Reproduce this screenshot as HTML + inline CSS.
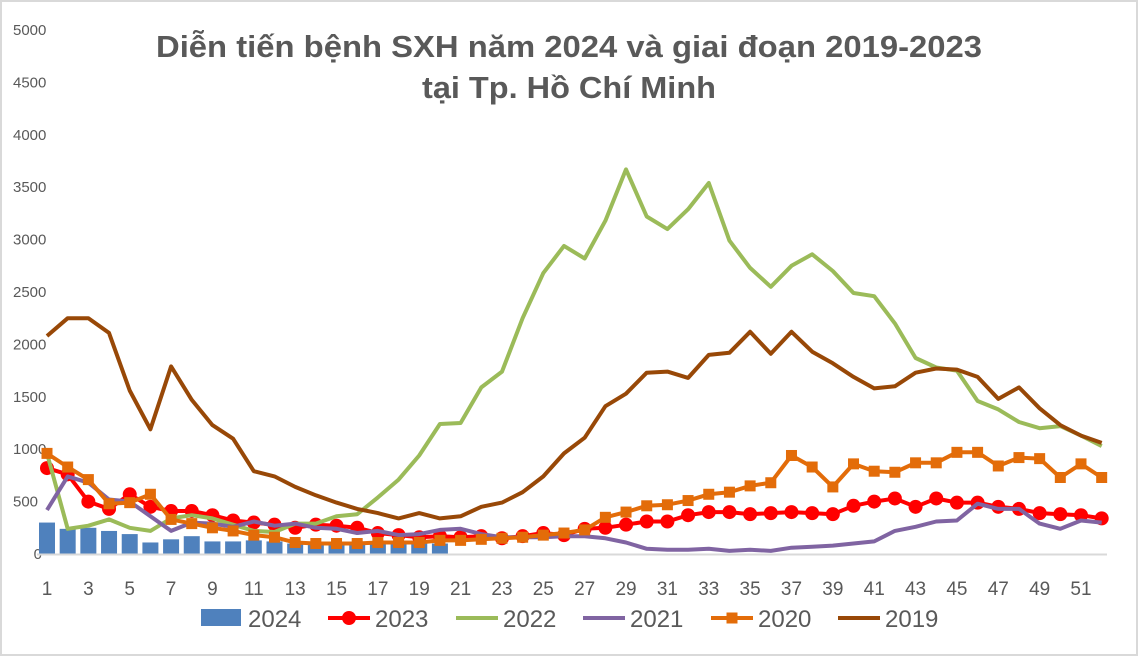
<!DOCTYPE html>
<html><head><meta charset="utf-8"><style>
html,body{margin:0;padding:0;background:#fff}
svg{display:block;font-family:"Liberation Sans",sans-serif}
</style></head><body>
<svg id="c" width="1138" height="656" viewBox="0 0 1138 656" xmlns="http://www.w3.org/2000/svg">
<rect x="0.5" y="0.5" width="1137" height="655" fill="#fff" stroke="#d9d9d9" stroke-width="3"/>
<text x="569" y="57" text-anchor="middle" font-size="31" font-weight="bold" fill="#595959" textLength="826" lengthAdjust="spacingAndGlyphs">Diễn tiến bệnh SXH năm 2024 và giai đoạn 2019-2023</text>
<text x="569" y="98" text-anchor="middle" font-size="31" font-weight="bold" fill="#595959" textLength="294" lengthAdjust="spacingAndGlyphs">tại Tp. Hồ Chí Minh</text>
<g id="g"></g>
</svg>
<script>
var ns="http://www.w3.org/2000/svg",g=document.getElementById('g');
function el(t,a,txt){var e=document.createElementNS(ns,t);for(var k in a)e.setAttribute(k,a[k]);if(txt!=null)e.textContent=txt;g.appendChild(e);return e;}
function X(w){return 47+(w-1)*20.68;}
function Y(v){return 554-v*0.1048;}
for(var v=0;v<=5000;v+=500){el('text',{x:v==0?42:13,y:Y(v)+5,'font-size':15,fill:'#595959'},String(v)).setAttribute('text-anchor',v==0?'end':'start');}
for(var w=1;w<=51;w+=2){el('text',{x:X(w),y:595,'font-size':19,fill:'#595959','text-anchor':'middle'},String(w));}
var b=[300,240,250,220,190,110,140,170,120,120,130,120,100,100,100,100,100,100,100,100];
b.forEach(function(v,i){el('rect',{x:X(i+1)-8,y:Y(v),width:16,height:554-Y(v),fill:'#4f81bd'});});
el('line',{x1:37,y1:554.5,x2:1107,y2:554.5,stroke:'#d9d9d9','stroke-width':2});
var s19=[2080,2250,2250,2110,1560,1190,1790,1470,1230,1100,790,740,640,560,490,430,390,340,390,340,360,450,490,590,740,960,1110,1410,1530,1730,1740,1680,1900,1920,2120,1910,2120,1930,1820,1690,1580,1600,1730,1770,1760,1690,1480,1590,1390,1230,1130,1060];
var s22=[960,240,270,330,250,220,340,370,340,280,220,210,290,290,360,380,540,710,940,1240,1250,1590,1740,2250,2680,2940,2820,3180,3670,3220,3100,3290,3540,2990,2730,2550,2750,2860,2700,2490,2460,2200,1870,1780,1750,1460,1380,1260,1200,1220,1130,1030];
var s21=[420,740,680,520,500,360,220,300,290,260,310,270,290,250,240,200,220,180,190,230,240,190,160,160,160,170,170,150,110,50,40,40,50,30,40,30,60,70,80,100,120,220,260,310,320,480,430,430,290,240,320,300];
var s20=[960,830,710,480,490,570,330,290,250,220,180,160,110,100,100,100,110,110,110,130,130,140,150,160,180,200,230,350,400,460,470,510,570,590,650,680,940,830,640,860,790,780,870,870,970,970,840,920,910,730,860,730];
var s23=[820,760,500,430,570,450,410,410,370,320,300,280,250,280,270,250,200,180,160,170,160,170,150,170,200,180,240,250,280,310,310,370,400,400,380,390,400,390,380,460,500,530,450,530,490,490,450,430,390,380,370,340];
function line(d,c){el('polyline',{points:d.map(function(v,i){return X(i+1).toFixed(1)+','+Y(v).toFixed(1)}).join(' '),fill:'none',stroke:c,'stroke-width':4,'stroke-linejoin':'round'});}
line(s23,'#ff0000');
s23.forEach(function(v,i){el('circle',{cx:X(i+1),cy:Y(v),r:7,fill:'#ff0000'});});
line(s22,'#9bbb59');
line(s21,'#8064a2');
line(s20,'#e36c09');
s20.forEach(function(v,i){el('rect',{x:X(i+1)-5.5,y:Y(v)-5.5,width:11,height:11,fill:'#e36c09'});});
line(s19,'#984807');
el('rect',{x:201,y:609,width:40,height:17,fill:'#4f81bd'});
el('text',{x:248,y:627,'font-size':24,fill:'#595959'},'2024');
el('line',{x1:328,y1:618,x2:370,y2:618,stroke:'#ff0000','stroke-width':4});
el('circle',{cx:349,cy:618,r:7,fill:'#ff0000'});
el('text',{x:375,y:627,'font-size':24,fill:'#595959'},'2023');
el('line',{x1:456,y1:618,x2:498,y2:618,stroke:'#9bbb59','stroke-width':4});
el('text',{x:503,y:627,'font-size':24,fill:'#595959'},'2022');
el('line',{x1:583,y1:618,x2:625,y2:618,stroke:'#8064a2','stroke-width':4});
el('text',{x:630,y:627,'font-size':24,fill:'#595959'},'2021');
el('line',{x1:711,y1:618,x2:753,y2:618,stroke:'#e36c09','stroke-width':4});
el('rect',{x:726.5,y:612.5,width:11,height:11,fill:'#e36c09'});
el('text',{x:758,y:627,'font-size':24,fill:'#595959'},'2020');
el('line',{x1:838,y1:618,x2:880,y2:618,stroke:'#984807','stroke-width':4});
el('text',{x:885,y:627,'font-size':24,fill:'#595959'},'2019');
</script>
</body></html>
